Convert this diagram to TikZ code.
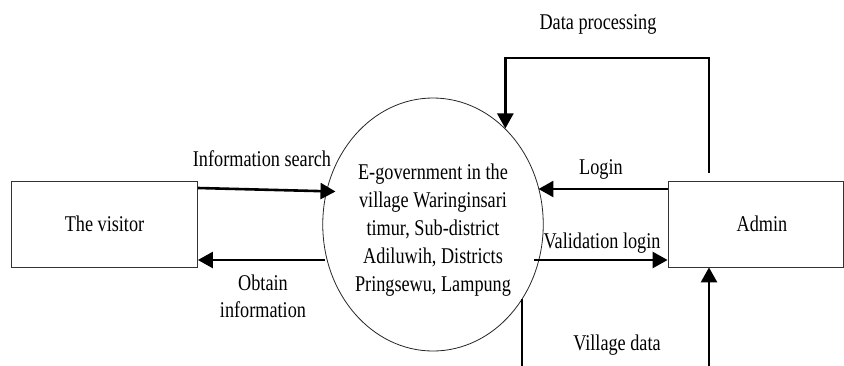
\documentclass[tikz,border=0pt]{standalone}
\usepackage{fontspec}
\setmainfont{Liberation Serif}[FakeStretch=0.81]
\usetikzlibrary{arrows.meta,shapes.geometric}

\tikzset{
  entity/.style={draw=black!80, line width=0.8pt, minimum width=186pt, minimum height=86pt, inner sep=0pt},
  process/.style={ellipse, draw=black!85, line width=0.8pt, minimum width=203pt, minimum height=253pt, inner sep=0pt, align=center},
  flow/.style={line width=2.6pt, -{Triangle[length=15pt,width=16pt]}},
  plain/.style={line width=2.4pt},
  lbl/.style={inner sep=0pt, align=center, anchor=base},
}

\begin{document}
\begin{tikzpicture}[x=1pt, y=-1pt, font=\fontsize{22.5}{26.7}\selectfont]
\useasboundingbox (0,0) rectangle (844,365);

% external entities and the central process
\node[entity] (vis) at (104.5,224) {The visitor};
\node[entity, minimum width=175.5pt] (adm) at (755.75,224) {\hspace{12.5pt}Admin};
\node[process, font=\fontsize{22.5}{28}\selectfont] (proc) at (433,224.5)
  {\rule{0pt}{27pt}E-government in the\\ village Waringinsari\\ timur, Sub-district\\ Adiluwih, Districts\\ Pringsewu, Lampung};

% visitor <-> process
\draw[flow] ([yshift=36pt]vis.east) -- ([shift={(-97.5pt,33pt)}]proc.center);
\coordinate (obS) at ([shift={(-108pt,-35.5pt)}]proc.center);
\draw[flow] (obS) -- (obS -| vis.east);

% admin <-> process
\coordinate (lgS) at ([yshift=35pt]adm.west);
\draw[flow] (lgS) -- (lgS -| proc.20);
\coordinate (vaS) at ([shift={(101pt,-35.5pt)}]proc.center);
\draw[flow] (vaS) -- (vaS -| adm.west);

% data processing loop over the top
\coordinate (dpS) at ([shift={(-46.75pt,8pt)}]adm.north);
\draw[flow] (dpS) -- (dpS |- 0,58) -| (proc.53);

% village data lines at the bottom
\coordinate (vr) at (709,366);
\draw[flow] (vr) -- (vr |- adm.south);
\coordinate (vl) at (517,366);
\draw[plain] (proc.-40) -- (proc.-40 |- vl);

% flow labels
\node[lbl] (tDp) at (598,29) {Data processing};
\node[lbl] (tIs) at (262,166) {Information search};
\node[lbl, anchor=north] (tOb) at (263,274.8) {Obtain\\ information};
\node[lbl] (tLg) at (601,174) {Login};
\node[lbl] (tVl) at (602,248) {Validation login};
\node[lbl] (tVd) at (617,350) {Village data};
\end{tikzpicture}
\end{document}
